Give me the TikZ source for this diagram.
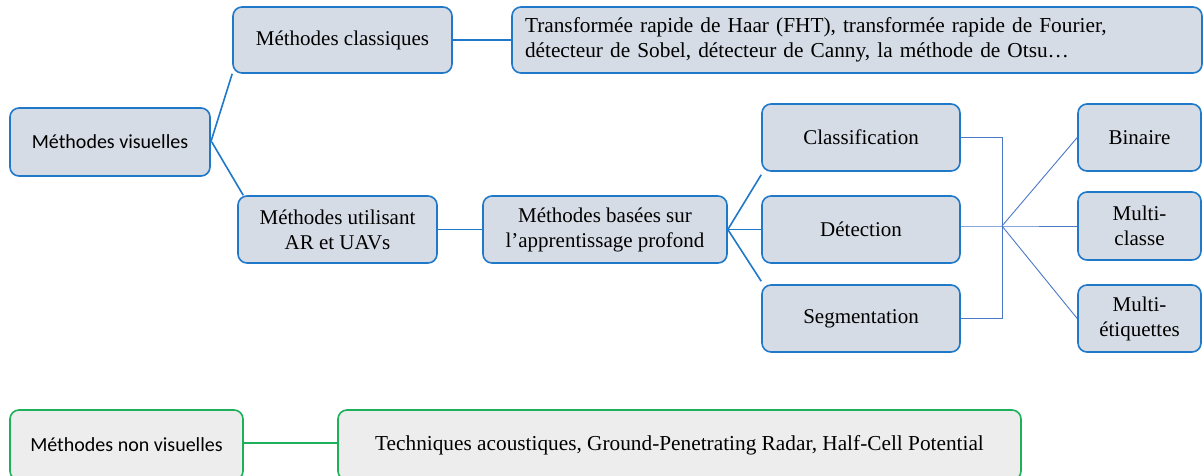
\documentclass[tikz,border=0pt]{standalone}
\usepackage{fontspec}
\setmainfont{Liberation Serif}
\newfontfamily\calibfont[Ligatures=NoCommon]{Carlito}
\definecolor{boxblue}{HTML}{1F78C8}
\definecolor{boxfill}{HTML}{D6DCE5}
\definecolor{thinblue}{HTML}{4A78C8}
\definecolor{boxgreen}{HTML}{1DB05A}
\definecolor{greyfill}{HTML}{EDEDED}
\tikzset{
  bluebox/.style={draw=boxblue, fill=boxfill, line width=1.6pt, rounded corners=9pt,
    align=center, inner sep=0pt, font=\fontsize{21}{25}\selectfont},
  sansfont/.style={font=\calibfont\fontsize{20}{25}\selectfont},
  greenbox/.style={draw=boxgreen, fill=greyfill, line width=1.6pt, rounded corners=9pt,
    align=center, inner sep=0pt, font=\fontsize{21.3}{25}\selectfont},
  link/.style={draw=boxblue, line width=1.6pt},
  thinlink/.style={draw=thinblue, line width=0.9pt},
  greenlink/.style={draw=boxgreen, line width=1.6pt},
}
\begin{document}
\begin{tikzpicture}[x=1pt,y=-1pt]
\useasboundingbox (0,0) rectangle (1204,475);
\clip (0,0) rectangle (1204,475);
% visual methods tree
\node[bluebox, sansfont, minimum width=200pt, minimum height=68pt] (mv) at (110,142) {Méthodes visuelles};
\node[bluebox, minimum width=219pt, minimum height=66pt] (mc) at (342.5,40) {Méthodes classiques};
\node[bluebox, minimum width=690pt, minimum height=66pt, align=left, text width=664pt,
  font=\fontsize{21.3}{25}\selectfont] (tr) at (857,40)
  {Transformée rapide de Haar (FHT), transformée rapide de Fourier,\\détecteur de Sobel, détecteur de Canny, la méthode de Otsu\ldots};
\node[bluebox, minimum width=199pt, minimum height=67pt] (mu) at (337.5,229.5) {Méthodes utilisant\\AR et UAVs};
\node[bluebox, minimum width=244pt, minimum height=67pt] (mb) at (605,229.5) {Méthodes basées sur\\l’apprentissage profond};
\node[bluebox, minimum width=198pt, minimum height=67pt] (cl) at (861,137.5) {Classification};
\node[bluebox, minimum width=198pt, minimum height=67pt] (de) at (861,229.5) {Détection};
\node[bluebox, minimum width=198pt, minimum height=67pt] (se) at (861,318.5) {Segmentation};
\node[bluebox, minimum width=123pt, minimum height=67pt] (bi) at (1139.5,137.5) {Binaire};
\node[bluebox, minimum width=123pt, minimum height=68pt] (mcl) at (1139.5,226) {Multi-\\classe};
\node[bluebox, minimum width=123pt, minimum height=67pt] (me) at (1139.5,318.5) {Multi-\\étiquettes};
\coordinate (j) at (1002,226);
% connectors
\draw[link] (mv.east) -- (mc.south west);
\draw[link] ([xshift=1pt]mv.east) -- ([xshift=6pt]mu.north west);
\draw[link] (mc.east) -- (tr.west);
\draw[link] (mu.east) -- (mb.east -| mb.west);
\draw[link] (mb.east) -- ([yshift=-3pt]cl.south west);
\draw[link] (mb.east) -- (de.west);
\draw[link] (mb.east) -- ([yshift=3pt]se.north west);
\draw[thinlink] (cl.east) -| (j) |- (se.east);
\draw[thinlink] (de.east |- j) -- (j) -- (mcl.west |- j);
\draw[thinlink] (j) -- (bi.west);
\draw[thinlink] (j) -- (me.west);
% non-visual methods
\node[greenbox, sansfont, minimum width=233pt, minimum height=70pt] (nv) at (126.5,445) {Méthodes non visuelles};
\node[greenbox, minimum width=683pt, minimum height=70pt] (tq) at (679.5,445) {Techniques acoustiques, Ground-Penetrating Radar, Half-Cell Potential};
\draw[greenlink] (nv.east |- 0,443) -- (tq.west |- 0,443);
\end{tikzpicture}
\end{document}
